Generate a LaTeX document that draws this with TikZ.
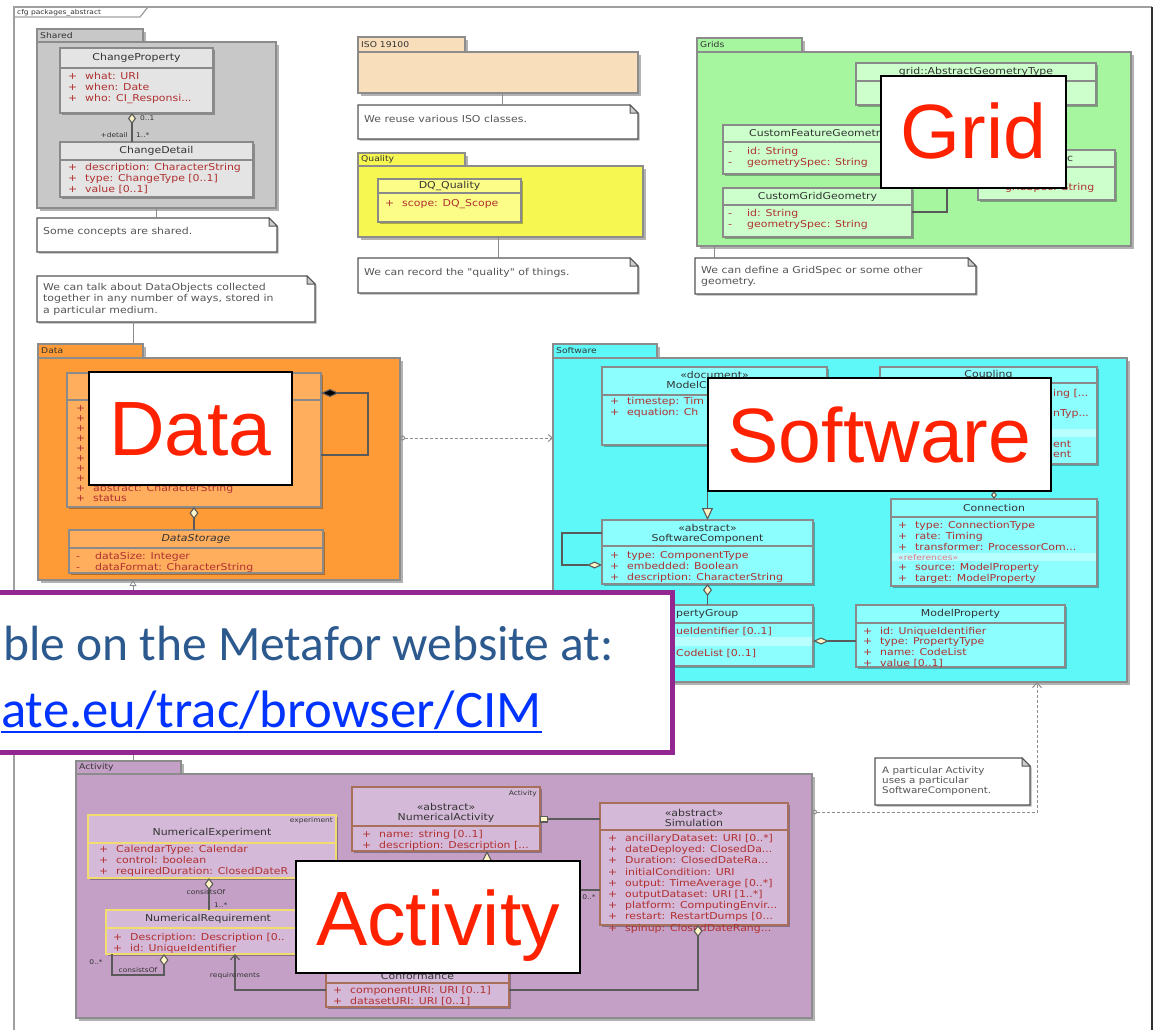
\documentclass[tikz,border=0pt]{standalone}
\usepackage{fontspec}
\setmainfont{Liberation Sans}
\newfontfamily\umlf[FakeStretch=1.15]{DejaVu Sans}
\newfontfamily\slidef{Carlito}
\usetikzlibrary{shadows,arrows.meta}

% package fills
\definecolor{cShared}{HTML}{C8C8C8}
\definecolor{cIso}{HTML}{F8DEBB}
\definecolor{cQual}{HTML}{F7F752}
\definecolor{cGrid}{HTML}{A6F6A0}
\definecolor{cData}{HTML}{FE9B36}
\definecolor{cSoft}{HTML}{5EF8F8}
\definecolor{cAct}{HTML}{C4A0C6}
% class fills and borders
\definecolor{fShared}{HTML}{E4E4E4}
\definecolor{fQual}{HTML}{FCFC88}
\definecolor{fGrid}{HTML}{CCFFCC}
\definecolor{fData}{HTML}{FFAE5E}
\definecolor{fSoft}{HTML}{8CFEFE}
\definecolor{fAct}{HTML}{D5B9D8}
\definecolor{bBrown}{HTML}{A8705A}
\definecolor{bYellow}{HTML}{F2DC70}
\definecolor{bGray}{HTML}{8A8A8A}
% lines and text
\definecolor{pkgline}{HTML}{8C8C8C}
\definecolor{attrred}{HTML}{B03030}
\definecolor{hdrtxt}{HTML}{333333}
\definecolor{notegray}{HTML}{555555}
\definecolor{diam}{HTML}{FFF6C8}
\definecolor{linegray}{HTML}{5A5A5A}
\definecolor{bigred}{HTML}{FF2200}
\definecolor{purp}{HTML}{922790}
\definecolor{slideblue}{HTML}{2C5A8E}
\definecolor{linkblue}{HTML}{0033FF}
\definecolor{bandc}{HTML}{B8FFFF}
\definecolor{refpink}{HTML}{E07A8A}
\definecolor{framegray}{HTML}{A0A0A0}
\definecolor{framedark}{HTML}{303030}

% attribute markers and type separator
\newcommand\ap{\strut\makebox[17pt][l]{+}}
\newcommand\am{\strut\makebox[19pt][l]{-}}
\newcommand\tc{:\enspace}

% package: name, x, tab top, tab w, tab h, body w, body h, fill, label
\newcommand\umlpkg[9]{%
  \node[pkgbox,fill=#8,minimum width=#4pt,minimum height=#5pt,anchor=north west] (#1tab) at (#2,#3) {};
  \node[pkgbox,fill=#8,minimum width=#6pt,minimum height=#7pt,anchor=north west] (#1) at (#1tab.south west) {};
  \node[pkglbl,anchor=west] (#1lbl) at ([xshift=3pt]#1tab.west) {#9};
}
% class box: name, x, y, w, h, header height, style
\newcommand\umlcls[7]{%
  \node[clsbox,#7,minimum width=#4pt,minimum height=#5pt,anchor=north west] (#1) at (#2,#3) {};
  \draw[#7,fill=none] ([yshift=-#6pt]#1.north west) -- ([yshift=-#6pt]#1.north east);
}
% note with folded corner: name, x, y, w, h
\newcommand\umlnote[5]{%
  \node[inner sep=0,outer sep=0,minimum width=#4pt,minimum height=#5pt,anchor=north west] (#1) at (#2,#3) {};
  \draw[notebox] (#1.north west) -- ([xshift=-8pt]#1.north east) -- ([yshift=-8pt]#1.north east)
     -- (#1.south east) -- (#1.south west) -- cycle;
  \draw[notefold] ([xshift=-8pt]#1.north east) -- ([xshift=-8pt,yshift=-8pt]#1.north east)
     -- ([yshift=-8pt]#1.north east) -- cycle;
}

\tikzset{
  pkgbox/.style={draw=pkgline,line width=1.2pt,inner sep=0,outer sep=0,
    drop shadow={shadow xshift=2.5pt,shadow yshift=-2.5pt,opacity=.3,fill=black}},
  pkglbl/.style={font=\umlf\fontsize{8}{9}\selectfont,text=hdrtxt,inner sep=0},
  clsbox/.style={inner sep=0,outer sep=0,
    drop shadow={shadow xshift=1.5pt,shadow yshift=-1.5pt,opacity=.3,fill=black}},
  shc/.style={fill=fShared,draw=bGray,line width=1.2pt},
  qc/.style={fill=fQual,draw=bGray,line width=1.2pt},
  gc/.style={fill=fGrid,draw=bGray,line width=1.2pt},
  dc/.style={fill=fData,draw=bGray,line width=1.2pt},
  sc/.style={fill=fSoft,draw=bGray,line width=1.2pt},
  abc/.style={fill=fAct,draw=bBrown,line width=1.8pt},
  ayc/.style={fill=fAct,draw=bYellow,line width=1.8pt},
  hdr/.style={font=\umlf\fontsize{9.5}{10}\selectfont,text=hdrtxt,inner sep=0,align=center},
  attr/.style={font=\umlf\fontsize{9.5}{10}\selectfont,text=attrred,inner sep=0,align=left,
    anchor=north west,execute at begin node=\strut},
  small/.style={font=\umlf\fontsize{6.5}{7}\selectfont,text=hdrtxt,inner sep=0},
  refl/.style={font=\umlf\fontsize{8}{9}\selectfont,text=refpink,inner sep=0},
  notetxt/.style={font=\umlf\fontsize{9.5}{11.5}\selectfont,text=notegray,inner sep=0,align=left,
    anchor=north west,execute at begin node=\strut},
  notebox/.style={draw=notegray,line width=1.4pt,fill=white,
    drop shadow={shadow xshift=1.5pt,shadow yshift=-1.5pt,opacity=.3,fill=black}},
  notefold/.style={draw=notegray,line width=1pt,fill=black!20},
  link/.style={draw=linegray!70,line width=0.8pt},
  assoc/.style={draw=linegray,line width=1.1pt},
  dep/.style={draw=black!45,line width=1pt,dashed,dash pattern=on 3pt off 2pt},
  ovl/.style={draw=black,line width=2pt,fill=white,inner sep=0,outer sep=0,anchor=north west},
  big/.style={font=\fontsize{77}{80}\selectfont,text=bigred,inner sep=0,anchor=base},
}

\begin{document}
\begin{tikzpicture}[x=1pt,y=-1pt]
\useasboundingbox (0,0) rectangle (1161,1029);
\fill[white] (0,0) rectangle (1161,1029);

% ---------- diagram frame ----------
\draw[framegray,line width=2pt] (14,1040) -- (14,7) -- (1152,7);
\draw[framedark,line width=2.5pt] (1152,7) -- (1152,1040);
\draw[framegray,line width=1.2pt] (14,17) -- (140,17) -- (148,7);
\node[small,anchor=west] (frameL) at (17,12.5) {cfg packages\_abstract};

% ---------- Shared ----------
\umlpkg{shr}{37}{29}{106}{13}{239}{166}{cShared}{Shared}
\umlcls{cprop}{60}{48}{153}{65}{20}{shc}
\node[hdr] (cpropN) at (136.5,58) {ChangeProperty};
\node[attr] (cpropA) at (68,72) {\ap what\tc URI\\\ap when\tc Date\\\ap who\tc CI\_Responsi...};
\umlcls{cdet}{60}{142}{193}{55}{18}{shc}
\node[hdr] (cdetN) at (156.5,151) {ChangeDetail};
\node[attr] (cdetA) at (68,163) {\ap description\tc CharacterString\\\ap type\tc ChangeType [0..1]\\\ap value [0..1]};
\draw[assoc,{Diamond[length=11pt,width=8pt,fill=diam]}-] ([xshift=-4.5pt]cprop.south) -- ([xshift=-4.5pt]cprop.south |- cdet.north);
\node[small,anchor=west] (cpM) at (140,118) {0..1};
\node[small,anchor=east] (cpR) at (128,135) {+detail};
\node[small,anchor=west] (cpD) at (136,135) {1..*};

\umlnote{n1}{37}{218}{240}{34}
\node[notetxt] (n1t) at (43,226) {Some concepts are shared.};
\umlnote{n2}{37}{276}{278}{46}
\node[notetxt] (n2t) at (43,283) {We can talk about DataObjects collected\\together in any number of ways, stored in\\a particular medium.};

% ---------- ISO 19100 and Quality ----------
\umlpkg{iso}{358}{37}{107}{15}{280}{41}{cIso}{ISO 19100}
\umlnote{n3}{358}{105}{280}{34}
\node[notetxt] (n3t) at (364,114) {We reuse various ISO classes.};
\umlpkg{qua}{358}{153}{107}{13}{285}{71}{cQual}{Quality}
\umlcls{dqq}{378}{179}{143}{43}{14}{qc}
\node[hdr] (dqqN) at (449.5,186) {DQ\_Quality};
\node[attr] (dqqA) at (385,199) {\ap scope\tc DQ\_Scope};
\umlnote{n4}{358}{258}{280}{35}
\node[notetxt] (n4t) at (364,267) {We can record the "quality" of things.};

% ---------- Grids ----------
\umlpkg{grd}{697}{38}{105}{14}{434}{194}{cGrid}{Grids}
\umlcls{agt}{856}{63}{240}{42}{18}{gc}
\node[hdr] (agtN) at (976,72) {grid::AbstractGeometryType};
\umlcls{cfg}{723}{125}{190}{49}{17}{gc}
\node[hdr] (cfgN) at (818,134) {CustomFeatureGeometry};
\node[attr] (cfgA) at (728,147) {\am id\tc String\\\am geometrySpec\tc String};
\umlcls{gsp}{978}{150}{137}{50}{17}{gc}
\node[hdr,anchor=west] (gspN) at (1067,159) {c};
\node[attr] (gspA) at (1005,183) {gridSpec\tc String};
\umlcls{cgg}{723}{188}{189}{49}{17}{gc}
\node[hdr] (cggN) at (817.5,197) {CustomGridGeometry};
\node[attr] (cggA) at (728,209) {\am id\tc String\\\am geometrySpec\tc String};
\draw[assoc,-{Triangle[open]}] ([yshift=-24pt]cgg.north east) -| ([xshift=-29pt]agt.south);
\umlnote{n5}{695}{258}{281}{36}
\node[notetxt] (n5t) at (701,266) {We can define a GridSpec or some other\\geometry.};

% ---------- Data ----------
\umlpkg{dat}{38}{344}{105}{14}{362}{222}{cData}{Data}
\umlcls{dob}{67}{373}{254}{134}{27}{dc}
\node[attr] (dobM) at (76,404) {\ap\\\ap\\\ap\\\ap\\\ap\\\ap\\\ap\\\ap};
\node[attr] (dobA) at (76,484) {\ap abstract\tc CharacterString\\\ap status};
\draw[assoc,{Diamond[length=18pt,width=8pt,fill=black]}-] ([yshift=-20pt]dob.north east) -- ++(47,0) |- ([yshift=-82pt]dob.north east);
\umlcls{dst}{69}{530}{254}{43}{18}{dc}
\node[hdr] (dstN) at (196,539) {\itshape DataStorage};
\node[attr] (dstA) at (76,552) {\am dataSize\tc Integer\\\am dataFormat\tc CharacterString};
\draw[assoc,{Diamond[length=12pt,width=9pt,fill=diam]}-] (dob.south) -- (dob.south |- dst.north);

% ---------- Software ----------
\umlpkg{sw}{553}{344}{104}{14}{574}{324}{cSoft}{Software}
\umlcls{mc}{602}{367}{225}{78}{28}{sc}
\node[hdr] (mcN) at (714.5,381) {«document»\\ModelComponent};
\node[attr] (mcA) at (610,397) {\ap timestep\tc Tim\\\ap equation\tc Ch};
\umlcls{cpl}{880}{367}{217}{97}{16}{sc}
\node[hdr] (cplN) at (988.5,375) {Coupling};
\fill[bandc] ([xshift=1pt,yshift=-62pt]cpl.north west) rectangle ([xshift=-1pt,yshift=-70pt]cpl.north east);
\node[attr] (cplA) at (1053,389) {ing [...};
\node[attr] (cplC) at (1053,409) {nTyp...};
\node[attr] (cplB) at (1053,441) {ent\\ent};
\umlcls{cnx}{891}{499}{206}{87}{18}{sc}
\node[hdr] (cnxN) at (994,508) {Connection};
\node[attr] (cnxA) at (898,521) {\ap type\tc ConnectionType\\\ap rate\tc Timing\\\ap transformer\tc ProcessorCom...};
\fill[bandc] ([xshift=1pt,yshift=-54pt]cnx.north west) rectangle ([xshift=-1pt,yshift=-62pt]cnx.north east);
\node[refl,anchor=west] (cnxR) at (898,557.5) {«references»};
\node[attr] (cnxB) at (898,563) {\ap source\tc ModelProperty\\\ap target\tc ModelProperty};
\draw[assoc,{Diamond[length=8pt,width=6pt,fill=diam]}-] (cnx.north) -- (cnx.north |- cpl.south);
\umlcls{swc}{602}{520}{211}{64}{26}{sc}
\node[hdr] (swcN) at (707.5,534) {«abstract»\\SoftwareComponent};
\node[attr] (swcA) at (610,551) {\ap type\tc ComponentType\\\ap embedded\tc Boolean\\\ap description\tc CharacterString};
\draw[assoc,-{Triangle[length=12pt,width=11pt,fill=diam]}] (swc.north |- mc.south) -- (swc.north);
\draw[assoc,{Diamond[length=15pt,width=7pt,fill=diam]}-] ([yshift=-45pt]swc.north west) -- ++(-40,0) |- ([yshift=-13pt]swc.north west);
\umlcls{pgr}{602}{605}{211}{61}{18}{sc}
\node[hdr,anchor=west] (pgrN) at (676,614) {pertyGroup};
\fill[bandc] ([xshift=1pt,yshift=-32pt]pgr.north west) rectangle ([xshift=-1pt,yshift=-41pt]pgr.north east);
\node[attr] (pgrA) at (676,627) {ueIdentifier [0..1]};
\node[attr] (pgrB) at (676,649) {CodeList [0..1]};
\draw[assoc,{Diamond[length=12pt,width=9pt,fill=diam]}-] (swc.south) -- (swc.south |- pgr.north);
\umlcls{mpr}{856}{605}{209}{62}{18}{sc}
\node[hdr] (mprN) at (960.5,614) {ModelProperty};
\node[attr] (mprA) at (863,627) {\ap id\tc UniqueIdentifier\\\ap type\tc PropertyType\\\ap name\tc CodeList\\\ap value [0..1]};
\draw[assoc,{Diamond[length=16pt,width=7pt,fill=diam]}-] ([yshift=-36pt]pgr.north east) -- ([yshift=-36pt]pgr.north east -| mpr.west);

% ---------- Activity ----------
\umlpkg{act}{76}{761}{105}{13}{736}{244}{cAct}{Activity}
\umlcls{nex}{88}{815}{248}{63}{28}{ayc}
\node[small,anchor=east] (nexS) at (333,821) {experiment};
\node[hdr] (nexN) at (212,833) {NumericalExperiment};
\node[attr] (nexA) at (99,845) {\ap CalendarType\tc Calendar\\\ap control\tc boolean\\\ap requiredDuration\tc ClosedDateR};
\umlcls{nac}{352}{787}{188}{64}{39}{abc}
\node[small,anchor=east] (nacS) at (537,794) {Activity};
\node[hdr] (nacN) at (446,813) {«abstract»\\NumericalActivity};
\node[attr] (nacA) at (362,830) {\ap name\tc string [0..1]\\\ap description\tc Description [...};
\umlcls{sim}{600}{803}{188}{122}{27}{abc}
\node[hdr] (simN) at (694,818) {«abstract»\\Simulation};
\node[attr] (simA) at (608,834) {\ap ancillaryDataset\tc URI [0..*]\\\ap dateDeployed\tc ClosedDa...\\\ap Duration\tc ClosedDateRa...\\\ap initialCondition\tc URI\\\ap output\tc TimeAverage [0..*]\\\ap outputDataset\tc URI [1..*]\\\ap platform\tc ComputingEnvir...\\\ap restart\tc RestartDumps [0...\\\ap spinup\tc ClosedDateRang...};
\umlcls{cnf}{326}{966}{183}{41}{17}{abc}
\node[hdr] (cnfN) at (417.5,976) {Conformance};
\node[attr] (cnfA) at (333,986) {\ap componentURI\tc URI [0..1]\\\ap datasetURI\tc URI [0..1]};
\umlcls{nrq}{106}{910}{204}{44}{18}{ayc}
\node[hdr] (nrqN) at (208,919) {NumericalRequirement};
\node[attr] (nrqA) at (113,933) {\ap Description\tc Description [0..\\\ap id\tc UniqueIdentifier};

\draw[assoc,{Square[length=8pt,width=7pt,fill=diam]}-] ([yshift=-32pt]nac.north east) -- ([yshift=-32pt]nac.north east -| sim.west);
\draw[assoc] ([yshift=-87pt]sim.north west) -| ([xshift=50pt]cnf.north);
\node[small] (simM) at (589,897) {0..*};
\draw[assoc,{Diamond[length=12pt,width=9pt,fill=diam]}-] ([xshift=4pt]sim.south) |- ([yshift=-24pt]cnf.north east);
\draw[assoc,-{Triangle[length=11pt,width=11pt,fill=diam]}] ([xshift=41pt]nac.south |- cnf.north) -- ([xshift=41pt]nac.south);
\draw[assoc,{Diamond[length=12pt,width=9pt,fill=diam]}-] ([xshift=-3pt]nex.south) -- ([xshift=-3pt]nex.south |- nrq.north);
\node[small] (nexL) at (206,892) {consistsOf};
\node[small,anchor=west] (nexM) at (214,905) {1..*};
\draw[assoc,{Diamond[length=12pt,width=9pt,fill=diam]}-] ([xshift=58pt]nrq.south west) -- ++(0,21) -| ([xshift=6pt]nrq.south west);
\node[small] (nrqM) at (96,962) {0..*};
\node[small] (nrqL) at (138,970) {consistsOf};
\draw[assoc,-{Straight Barb[length=5pt,width=9pt]}] ([yshift=-24pt]cnf.north west) -| ([xshift=129pt]nrq.south west);
\node[small] (cnfL) at (235,976) {requirements};

% ---------- links between packages and notes ----------
\draw[link] (shr.south) -- (shr.south |- n1.north);
\draw[link] ([xshift=96pt]n2.south west) -- ([xshift=96pt]n2.south west |- dattab.north);
\draw[link] ([xshift=144pt]iso.south west) -- ([xshift=144pt]iso.south west |- n3.north);
\draw[link] ([xshift=140pt]qua.south west) -- ([xshift=140pt]qua.south west |- n4.north);
\draw[link] ([xshift=17pt]grd.south west) -- ([xshift=17pt]grd.south west |- n5.north);
\draw[dep,{Circle[open,length=5pt]}-{Straight Barb[length=4pt,width=7pt]}] ([yshift=-80pt]dat.north east) -- ([yshift=-80pt]dat.north east -| sw.west);
\draw[link,{Triangle[open,length=6pt,width=7pt]}-] ([xshift=95pt]dat.south west) -- ([xshift=95pt]dat.south west |- acttab.north);
\umlnote{n6}{875}{758}{155}{47}
\node[notetxt,font=\umlf\fontsize{9}{10}\selectfont] (n6t) at (882,766) {A particular Activity\\uses a particular\\SoftwareComponent.};
\draw[dep,{Circle[open,length=5pt]}-{Straight Barb[length=5pt,width=9pt]}] ([yshift=-38pt]act.north east) -| ([xshift=197pt]sw.south);

% ---------- package captions ----------
\node[ovl,minimum width=185pt,minimum height=112pt] (gridbox) at (881,76) {};
\node[big] (gridtxt) at (973.5,158) {Grid};
\node[ovl,minimum width=203pt,minimum height=113pt] (databox) at (89,372) {};
\node[big] (datatxt) at (190.5,455) {Data};
\node[ovl,minimum width=343pt,minimum height=113pt] (swbox) at (708,378) {};
\node[big] (swtxt) at (879.5,462) {Software};
\node[ovl,minimum width=284pt,minimum height=112pt] (actbox) at (296,861) {};
\node[big] (acttxt) at (438,945) {Activity};

% ---------- web address panel ----------
\node[draw=purp,line width=5pt,fill=white,inner sep=0,outer sep=0,minimum width=700pt,minimum height=160pt,anchor=north west] (urlbox) at (-28,592.5) {};
\node[font=\slidef\fontsize{49.5}{60}\selectfont,text=slideblue,anchor=base west,inner sep=0] (urlA) at (3,660) {ble on the Metafor website at:};
\node[font=\slidef\fontsize{52.7}{60}\selectfont,text=linkblue,anchor=base west,inner sep=0] (urlB) at (1,727) {ate.eu/trac/browser/CIM};
\draw[linkblue,line width=2.5pt] ([yshift=-5pt]urlB.base west) -- ([yshift=-5pt]urlB.base east);
\end{tikzpicture}
\end{document}
